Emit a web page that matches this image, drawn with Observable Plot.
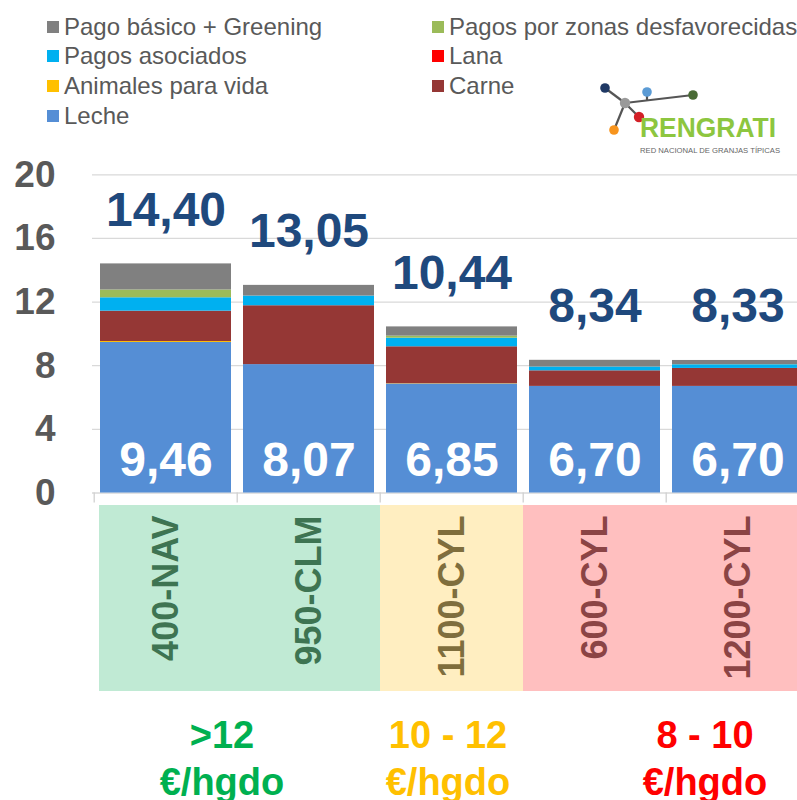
<!DOCTYPE html>
<html><head><meta charset="utf-8">
<script src="https://cdn.jsdelivr.net/npm/d3@7"></script>
<script src="https://cdn.jsdelivr.net/npm/@observablehq/plot@0.6"></script>
<style>
html,body{margin:0;padding:0;background:#fff;width:797px;height:800px;overflow:hidden;}
body{position:relative;font-family:"Liberation Sans",Arial,sans-serif;}
.abs{position:absolute;}
svg{max-width:none !important;}
.leg{position:absolute;font-size:24px;line-height:29.8px;color:#595959;white-space:nowrap;}
.leg span.sq{position:absolute;width:12px;height:12px;left:-17px;top:9px;}
.rng{position:absolute;width:300px;text-align:center;font-size:38px;line-height:47px;font-weight:bold;white-space:nowrap;}
</style></head><body>
<div id="legend"></div>
<div id="chart" class="abs" style="left:0;top:150px"></div>
<div id="panel" class="abs" style="left:0;top:505px"></div>
<div id="ranges"></div>
<svg id="logo" class="abs" style="left:0;top:0" width="797" height="165">
  <g stroke="#555" stroke-width="2.2" fill="none">
    <line x1="605" y1="88" x2="625" y2="103"/>
    <line x1="625" y1="103" x2="614" y2="130"/>
    <line x1="625" y1="103" x2="639" y2="117"/>
    <line x1="625" y1="103" x2="693" y2="95"/>
    <line x1="647" y1="92" x2="647" y2="100"/>
  </g>
  <circle cx="605" cy="88" r="4.8" fill="#1f3864"/>
  <circle cx="625" cy="103" r="5.2" fill="#9a9a9a"/>
  <circle cx="647" cy="92" r="4.8" fill="#5b9bd5"/>
  <circle cx="693" cy="95" r="4.8" fill="#4a6b35"/>
  <circle cx="639" cy="117" r="5.2" fill="#d32027"/>
  <circle cx="614" cy="130" r="4.8" fill="#f7941d"/>
  <text x="640" y="137" font-family="Liberation Sans, Arial, sans-serif" font-weight="bold" font-size="28" fill="#8dc63f" textLength="136" lengthAdjust="spacingAndGlyphs">RENGRATI</text>
  <text x="640" y="152.7" font-family="Liberation Sans, Arial, sans-serif" font-size="7.5" fill="#666" textLength="140" lengthAdjust="spacingAndGlyphs">RED NACIONAL DE GRANJAS TÍPICAS</text>
</svg>
<script>
const FONT = '"Liberation Sans", Arial, sans-serif';
// ---- data ----
const categories = ["400-NAV", "950-CLM", "1100-CYL", "600-CYL", "1200-CYL"];
const groups = ["high", "high", "mid", "low", "low"];
const seriesNames = ["Leche", "Animales para vida", "Carne", "Lana", "Pagos asociados", "Pagos por zonas desfavorecidas", "Pago básico + Greening"];
const leche     = [9.46, 8.07, 6.85, 6.70, 6.70];
const animales  = [0.06, 0.00, 0.02, 0.00, 0.00];
const carne     = [1.91, 3.70, 2.32, 0.98, 1.13];
const lana      = [0.00, 0.00, 0.00, 0.00, 0.00];
const asociados = [0.84, 0.61, 0.54, 0.24, 0.23];
const zonas     = [0.49, 0.00, 0.13, 0.00, 0.01];
const basico    = [1.64, 0.67, 0.58, 0.42, 0.26];
const totals    = [14.40, 13.05, 10.44, 8.34, 8.33];
const yTicks = [0, 4, 8, 12, 16, 20];
const rangeLabels = [">12", "10 - 12", "8 - 10"];
const rangeUnit = "€/hgdo";
// legend order (2 columns, row-major)
const legendOrder = ["Pago básico + Greening", "Pagos por zonas desfavorecidas", "Pagos asociados", "Lana", "Animales para vida", "Carne", "Leche"];

// ---- styles ----
const seriesColors = ["#558ed5", "#ffc000", "#953735", "#ff0000", "#00b0f0", "#9bbb59", "#808080"];
const colorOf = Object.fromEntries(seriesNames.map((s, i) => [s, seriesColors[i]]));
const panelFill = {high: "#c0ead4", mid: "#ffeec1", low: "#ffbfbf"};
const panelText = {high: "#3e7452", mid: "#7f6e3d", low: "#8b4445"};
const rangeColor = ["#00b050", "#ffc000", "#ff0000"];
const fmt = v => d3.format(".2f")(v).replace(".", ",");

const seriesValues = [leche, animales, carne, lana, asociados, zonas, basico];
const table = [];
categories.forEach((c, i) => {
  seriesNames.forEach((s, k) => {
    const v = seriesValues[k][i];
    if (v > 0) table.push({cat: c, series: s, value: v});
  });
});

// ---- legend ----
const leg = document.getElementById("legend");
legendOrder.forEach((s, j) => {
  const col = j % 2, row = Math.floor(j / 2);
  const d = document.createElement("div");
  d.className = "leg";
  d.style.left = (col ? 449 : 64) + "px";
  d.style.top = (11.5 + row * 29.8) + "px";
  d.innerHTML = `<span class="sq" style="background:${colorOf[s]}"></span>${s}`;
  leg.appendChild(d);
});

// ---- main chart ----
const W = 810, ML = 92;
const step = (W - ML) / categories.length;
const chart = Plot.plot({
  width: W, height: 365,
  marginLeft: ML, marginRight: 0, marginTop: 24.3, marginBottom: 22.5,
  style: {fontFamily: FONT, background: "transparent"},
  x: {type: "band", domain: categories, paddingInner: 0.087, paddingOuter: 0.0435, axis: null},
  y: {domain: [0, 20], axis: null},
  color: {domain: seriesNames, range: seriesColors},
  marks: [
    Plot.gridY(yTicks.filter(d => d > 0), {stroke: "#d9d9d9", strokeOpacity: 1, strokeWidth: 1.3}),
    Plot.axisY(yTicks, {label: null, tickSize: 0, tickPadding: 37, fontSize: 37, fontWeight: "bold", color: "#595959", tickFormat: d => String(d)}),
    Plot.ruleY([0], {stroke: "#d9d9d9", strokeWidth: 1.5}),
    Plot.ruleX(categories, {x: d => d, dx: -step / 2, y1: 0, y2: -0.63, stroke: "#d0d0d0", strokeWidth: 1.3}),
    Plot.barY(table, {x: "cat", y: "value", fill: "series"}),
    Plot.text(categories, {x: d => d, y: (d, i) => totals[i], text: (d, i) => fmt(totals[i]), dy: -38, lineAnchor: "bottom", fill: "#1f497d", fontSize: 48, fontWeight: "bold"}),
    Plot.text(categories, {x: d => d, y: 0, text: (d, i) => fmt(leche[i]), dy: -17, lineAnchor: "bottom", fill: "white", fontSize: 48, fontWeight: "bold"})
  ]
});
document.getElementById("chart").appendChild(chart);

// ---- category panel ----
const gOf = c => groups[categories.indexOf(c)];
const panel = Plot.plot({
  width: W, height: 186,
  marginLeft: ML, marginRight: 0, marginTop: 0, marginBottom: 0,
  style: {fontFamily: FONT, background: "transparent"},
  x: {type: "band", domain: categories, padding: 0, axis: null},
  color: {type: "identity"},
  marks: [
    Plot.cell(categories.slice(0, 1), {x: d => d, fill: d => panelFill[gOf(d)], insetLeft: 5}),
    Plot.cell(categories.slice(1), {x: d => d, fill: d => panelFill[gOf(d)]}),
    Plot.text(categories, {x: d => d, frameAnchor: "top", dy: 10, rotate: -90, textAnchor: "end", lineAnchor: "middle", text: d => d, fill: d => panelText[gOf(d)], fontSize: 36, fontWeight: "bold"})
  ]
});
document.getElementById("panel").appendChild(panel);

// ---- range labels ----
const rangeX = [222, 448, 705];
const rg = document.getElementById("ranges");
rangeLabels.forEach((t, i) => {
  const d = document.createElement("div");
  d.className = "rng";
  d.style.left = (rangeX[i] - 150) + "px";
  d.style.top = "712px";
  d.style.color = rangeColor[i];
  d.innerHTML = `${t}<br>${rangeUnit}`;
  rg.appendChild(d);
});
</script>
</body></html>
